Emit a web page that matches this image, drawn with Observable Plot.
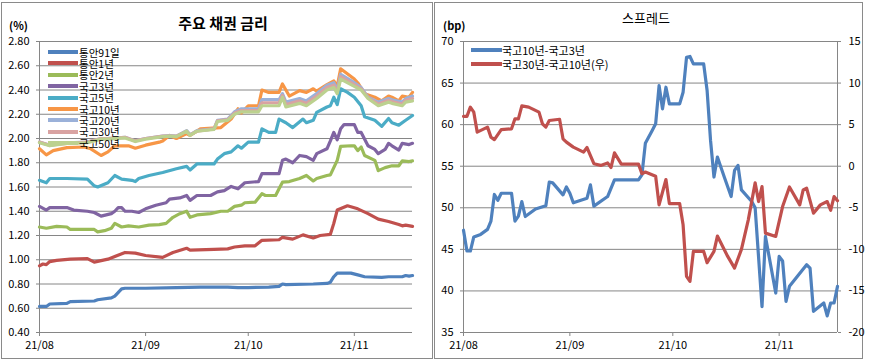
<!DOCTYPE html>
<html><head><meta charset="utf-8">
<script src="https://cdn.jsdelivr.net/npm/d3@7"></script>
<script src="https://cdn.jsdelivr.net/npm/@observablehq/plot@0.6"></script>
<style>
body{margin:0;width:869px;height:361px;background:#fff;position:relative;overflow:hidden;font-family:"Noto Sans CJK KR","Noto Sans",sans-serif;color:#000;}
.panel{position:absolute;border:1px solid #8a8a8a;box-sizing:border-box;}
.abs{position:absolute;white-space:nowrap;}
.chart{position:absolute;top:0;}
.lg{position:absolute;height:4px;}
.lt{position:absolute;font-size:11px;line-height:12px;white-space:nowrap;}
.lt1{position:absolute;font-size:10.5px;line-height:11px;white-space:nowrap;}
</style></head><body>
<div class="panel" style="left:1px;top:2px;width:432px;height:357px"></div>
<div class="panel" style="left:434px;top:2px;width:429px;height:357px"></div>
<div id="c1" class="chart" style="left:0px"></div>
<div id="c2" class="chart" style="left:434px"></div>
<div class="abs" style="left:123px;top:12px;width:200px;text-align:center;font-size:15px;font-weight:bold;line-height:22px">주요 채권 금리</div>
<div class="abs" style="left:546px;top:7px;width:200px;text-align:center;font-size:13px;line-height:22px">스프레드</div>
<div class="abs" style="left:9px;top:18px;font-size:11px;font-weight:bold;line-height:14px">(%)</div>
<div class="abs" style="left:443px;top:18px;font-size:11px;font-weight:bold;line-height:14px">(bp)</div>
<div id="leg1"></div>
<div id="leg2"></div>
<script>
// ---- Left chart: 주요 채권 금리 (%) ----
const leftNames = ["통안91일","통안1년","통안2년","국고3년","국고5년","국고10년","국고20년","국고30년","국고50년"];
const leftColors = ["#4F81BD","#C0504D","#9BBB59","#8064A2","#4BACC6","#F79646","#9BB1D9","#D9A3A2","#BCD18F"];
const yTicksLeft = [0.4,0.6,0.8,1.0,1.2,1.4,1.6,1.8,2.0,2.2,2.4,2.6,2.8];
const monthTicks = ["08-02","09-02","10-02","11-02"];
const xDomain = ["08-02","11-19"];

const s91 = [["08-02",0.615],["08-04",0.615],["08-05",0.635],["08-10",0.64],["08-11",0.655],["08-18",0.66],["08-19",0.67],["08-23",0.685],["08-24",0.70],["08-26",0.76],["08-27",0.765],["09-02",0.765],["09-11",0.77],["09-18",0.775],["09-26",0.775],["09-29",0.77],["10-02",0.77],["10-08",0.775],["10-11",0.78],["10-12",0.80],["10-13",0.795],["10-21",0.80],["10-25",0.805],["10-26",0.815],["10-27",0.86],["10-28",0.89],["11-01",0.89],["11-03",0.875],["11-05",0.86],["11-10",0.855],["11-12",0.86],["11-16",0.86],["11-17",0.87],["11-18",0.865],["11-19",0.87]];
const s1y = [["08-02",0.95],["08-03",0.965],["08-04",0.96],["08-05",0.985],["08-07",0.995],["08-11",1.005],["08-16",1.01],["08-18",0.98],["08-22",1.005],["08-27",1.06],["08-30",1.055],["09-02",1.035],["09-07",1.02],["09-10",1.06],["09-14",1.095],["09-15",1.08],["09-22",1.085],["09-26",1.09],["09-28",1.105],["10-01",1.115],["10-04",1.115],["10-06",1.16],["10-11",1.165],["10-12",1.185],["10-15",1.17],["10-18",1.205],["10-21",1.18],["10-23",1.20],["10-26",1.21],["10-27",1.30],["10-28",1.41],["10-31",1.445],["11-03",1.42],["11-06",1.38],["11-09",1.335],["11-12",1.315],["11-15",1.29],["11-16",1.28],["11-17",1.285],["11-19",1.275]];
const s2y = [["08-02",1.27],["08-04",1.26],["08-07",1.275],["08-10",1.27],["08-11",1.25],["08-18",1.25],["08-19",1.23],["08-21",1.24],["08-23",1.26],["08-24",1.30],["08-26",1.27],["08-28",1.28],["08-31",1.27],["09-03",1.285],["09-06",1.29],["09-08",1.30],["09-10",1.35],["09-12",1.38],["09-14",1.40],["09-15",1.35],["09-17",1.37],["09-21",1.38],["09-24",1.40],["09-26",1.40],["09-28",1.44],["09-30",1.45],["10-01",1.47],["10-04",1.475],["10-06",1.545],["10-07",1.53],["10-10",1.53],["10-11",1.585],["10-12",1.64],["10-14",1.645],["10-17",1.67],["10-19",1.695],["10-21",1.65],["10-22",1.67],["10-25",1.695],["10-26",1.70],["10-28",1.82],["10-29",1.935],["11-01",1.94],["11-02",1.94],["11-03",1.90],["11-04",1.93],["11-05",1.86],["11-08",1.82],["11-09",1.735],["11-11",1.76],["11-13",1.775],["11-15",1.775],["11-16",1.815],["11-18",1.81],["11-19",1.815]];
const k3y = [["08-02",1.44],["08-04",1.41],["08-05",1.43],["08-10",1.43],["08-12",1.41],["08-16",1.40],["08-18",1.39],["08-20",1.36],["08-23",1.38],["08-24",1.40],["08-25",1.43],["08-26",1.43],["08-27",1.40],["08-29",1.40],["08-31",1.39],["09-02",1.42],["09-05",1.45],["09-08",1.47],["09-09",1.50],["09-12",1.51],["09-14",1.53],["09-15",1.49],["09-17",1.53],["09-21",1.53],["09-23",1.56],["09-25",1.57],["09-27",1.605],["09-29",1.585],["10-01",1.635],["10-05",1.645],["10-06",1.71],["10-11",1.71],["10-12",1.82],["10-13",1.83],["10-15",1.80],["10-17",1.86],["10-19",1.85],["10-21",1.82],["10-22",1.875],["10-25",1.915],["10-26",1.98],["10-27",2.05],["10-28",1.99],["10-29",2.08],["10-30",2.115],["11-02",2.115],["11-03",2.05],["11-04",2.05],["11-06",1.94],["11-08",1.91],["11-09",1.875],["11-11",1.91],["11-12",1.96],["11-13",1.94],["11-15",1.905],["11-16",1.96],["11-18",1.95],["11-19",1.96]];
const k5y = [["08-02",1.655],["08-04",1.635],["08-05",1.67],["08-10",1.67],["08-16",1.665],["08-18",1.61],["08-19",1.60],["08-22",1.635],["08-24",1.695],["08-26",1.665],["08-29",1.655],["08-30",1.645],["08-31",1.67],["09-03",1.695],["09-07",1.72],["09-11",1.75],["09-14",1.77],["09-15",1.74],["09-17",1.79],["09-22",1.79],["09-23",1.83],["09-25",1.875],["09-27",1.89],["09-29",1.94],["09-30",1.92],["10-02",1.97],["10-05",1.97],["10-06",2.08],["10-08",2.05],["10-10",2.05],["10-11",2.16],["10-13",2.13],["10-15",2.09],["10-18",2.16],["10-19",2.13],["10-21",2.15],["10-22",2.215],["10-25",2.26],["10-26",2.27],["10-27",2.34],["10-28",2.28],["10-29",2.41],["10-31",2.38],["11-02",2.34],["11-04",2.27],["11-05",2.18],["11-08",2.15],["11-10",2.10],["11-12",2.165],["11-13",2.13],["11-15",2.11],["11-17",2.15],["11-19",2.19]];
const k10y = [["08-02",1.915],["08-04",1.865],["08-06",1.90],["08-10",1.925],["08-15",1.93],["08-17",1.915],["08-20",1.86],["08-22",1.89],["08-24",1.94],["08-28",1.94],["08-30",1.92],["09-02",1.945],["09-06",1.97],["09-07",1.98],["09-09",2.025],["09-11",2.00],["09-14",2.04],["09-15",2.025],["09-18",2.08],["09-24",2.09],["09-27",2.16],["09-29",2.245],["09-30",2.21],["10-01",2.24],["10-02",2.27],["10-05",2.27],["10-06",2.40],["10-08",2.38],["10-11",2.38],["10-12",2.45],["10-13",2.40],["10-14",2.35],["10-17",2.395],["10-19",2.38],["10-21",2.41],["10-22",2.39],["10-25",2.445],["10-27",2.475],["10-28",2.43],["10-29",2.575],["11-02",2.49],["11-03",2.46],["11-05",2.37],["11-08",2.34],["11-10",2.31],["11-12",2.35],["11-13",2.34],["11-15",2.31],["11-16",2.35],["11-18",2.34],["11-19",2.38]];
const k20y = [["08-02",1.97],["08-05",1.945],["08-10",1.965],["08-16",1.97],["08-20",2.00],["08-22",2.00],["08-27",2.01],["08-30",1.98],["09-02",2.00],["09-07",2.02],["09-09",2.025],["09-11",2.02],["09-14",2.065],["09-15",2.03],["09-17",2.065],["09-22",2.08],["09-23",2.15],["09-26",2.16],["09-28",2.22],["09-30",2.245],["10-05",2.245],["10-06",2.32],["10-11",2.32],["10-12",2.37],["10-13",2.30],["10-17",2.33],["10-19",2.31],["10-22",2.37],["10-25",2.44],["10-27",2.46],["10-28",2.40],["10-29",2.53],["11-02",2.46],["11-04",2.42],["11-06",2.34],["11-09",2.30],["11-12",2.33],["11-13",2.32],["11-16",2.30],["11-17",2.33],["11-19",2.35]];
const k30y = [["08-02",1.97],["08-05",1.945],["08-10",1.96],["08-16",1.97],["08-20",2.00],["08-22",2.00],["08-27",2.01],["08-30",1.98],["09-02",2.00],["09-07",2.02],["09-09",2.02],["09-11",2.02],["09-14",2.06],["09-15",2.03],["09-17",2.06],["09-22",2.08],["09-23",2.145],["09-26",2.155],["09-28",2.21],["09-30",2.23],["10-05",2.23],["10-06",2.295],["10-11",2.295],["10-12",2.355],["10-13",2.28],["10-17",2.31],["10-19",2.29],["10-22",2.35],["10-25",2.42],["10-27",2.44],["10-28",2.385],["10-29",2.51],["11-02",2.445],["11-04",2.41],["11-06",2.335],["11-09",2.285],["11-12",2.315],["11-13",2.305],["11-16",2.285],["11-17",2.315],["11-19",2.33]];
const k50y = [["08-02",1.965],["08-05",1.94],["08-10",1.96],["08-16",1.965],["08-20",1.995],["08-22",1.995],["08-27",2.005],["08-30",1.975],["09-02",1.995],["09-07",2.015],["09-09",2.02],["09-11",2.015],["09-14",2.06],["09-15",2.025],["09-17",2.06],["09-22",2.075],["09-23",2.14],["09-26",2.15],["09-28",2.20],["09-30",2.22],["10-05",2.22],["10-06",2.27],["10-11",2.27],["10-12",2.34],["10-13",2.26],["10-17",2.29],["10-19",2.27],["10-22",2.33],["10-25",2.40],["10-27",2.42],["10-28",2.37],["10-29",2.49],["11-02",2.43],["11-04",2.40],["11-06",2.33],["11-09",2.27],["11-12",2.30],["11-13",2.29],["11-16",2.27],["11-17",2.30],["11-19",2.31]];

// ---- Right chart: 스프레드 (bp) ----
const rightNames = ["국고10년-국고3년","국고30년-국고10년(우)"];
const rightColors = ["#4F81BD","#C0504D"];
const yTicksRight = [35,40,45,50,55,60,65,70];   // left axis (bp)
const rightAxisOffset = 55;                        // right axis = left axis - 55 (15 … -20)
const spread10_3 = [["08-02",47.3],["08-03",44.8],["08-04",44.8],["08-05",46.5],["08-07",46.8],["08-09",47.4],["08-10",48.4],["08-11",51.6],["08-12",50.9],["08-13",51.75],["08-16",51.75],["08-17",48.4],["08-18",49.0],["08-19",50.75],["08-20",48.95],["08-23",49.85],["08-26",50.25],["08-27",53.1],["08-28",53.0],["08-31",51.55],["09-01",52.5],["09-02",51.75],["09-03",50.6],["09-07",51.15],["09-08",52.75],["09-09",50.2],["09-13",51.35],["09-15",53.35],["09-22",53.35],["09-23",53.95],["09-24",57.75],["09-26",59.3],["09-27",60.1],["09-28",64.7],["09-29",61.9],["09-30",64.5],["10-01",62.5],["10-04",62.5],["10-05",63.9],["10-06",68.1],["10-07",68.2],["10-08",67.3],["10-11",67.3],["10-12",64.1],["10-13",58.1],["10-14",53.7],["10-15",56.1],["10-17",53.7],["10-19",51.35],["10-20",54.5],["10-21",55.1],["10-22",52.15],["10-25",50.75],["10-26",50.0],["10-28",38.1],["10-29",46.55],["11-01",39.75],["11-02",44.15],["11-03",43.6],["11-04",38.75],["11-05",40.55],["11-10",43.15],["11-11",42.75],["11-12",37.55],["11-15",38.55],["11-16",37.0],["11-17",38.55],["11-18",38.55],["11-19",40.55]];
const spread30_10 = [["08-02",6.0],["08-03",6.0],["08-04",7.1],["08-05",6.5],["08-06",4.1],["08-09",4.7],["08-10",3.5],["08-11",3.2],["08-13",4.4],["08-16",4.5],["08-17",5.7],["08-18",5.7],["08-19",7.25],["08-21",7.1],["08-24",6.5],["08-25",5.1],["08-26",4.7],["08-27",5.5],["08-30",5.65],["08-31",3.3],["09-01",2.9],["09-03",2.3],["09-06",1.7],["09-07",2.25],["09-09",0.3],["09-11",0.1],["09-13",0.4],["09-14",-0.15],["09-15",1.6],["09-17",0.25],["09-22",0.25],["09-23",-0.9],["09-24",-0.7],["09-27",-1.2],["09-28",-4.65],["09-30",-1.6],["10-01",-4.5],["10-04",-4.5],["10-05",-7.05],["10-06",-13.25],["10-07",-13.85],["10-08",-10.25],["10-11",-10.25],["10-12",-11.6],["10-14",-10.25],["10-15",-8.4],["10-18",-10.85],["10-20",-12.25],["10-22",-10.0],["10-24",-6.45],["10-26",-2.0],["10-27",-4.25],["10-28",-2.45],["10-29",-8.05],["11-01",-8.45],["11-03",-4.85],["11-05",-2.5],["11-08",-4.65],["11-09",-2.85],["11-10",-2.65],["11-12",-5.65],["11-14",-4.65],["11-16",-4.25],["11-17",-5.3],["11-18",-3.65],["11-19",-4.15]];

// ---- build ----
const parse = s => new Date(`2021-${s}T00:00:00Z`);
const fmt = d3.utcFormat("%y/%m");
const FONT = '"Noto Sans CJK KR","Noto Sans",sans-serif';
const GRID = "#868686";

const leftSeries = [s91,s1y,s2y,k3y,k5y,k10y,k20y,k30y,k50y];
const leftRows = leftSeries.flatMap((arr,i)=>arr.map(([d,v])=>({date:parse(d), value:v, name:leftNames[i]})));

const p1 = Plot.plot({
  width:432, height:358,
  marginLeft:39, marginRight:20, marginTop:41, marginBottom:26,
  style:{fontFamily:FONT, fontSize:"11px", color:"#000", background:"transparent", overflow:"visible"},
  x:{type:"utc", domain:xDomain.map(parse)},
  y:{domain:[0.4,2.8]},
  color:{domain:leftNames, range:leftColors},
  marks:[
    Plot.gridY(yTicksLeft, {stroke:GRID, strokeOpacity:1}),
    Plot.ruleX([parse(xDomain[0])], {stroke:GRID}),
    Plot.ruleY([0.4], {stroke:GRID}),
    Plot.axisY(yTicksLeft, {tickFormat:d=>d.toFixed(2), tickSize:3, tickPadding:7, stroke:GRID, fill:"#000", label:null}),
    Plot.axisX(monthTicks.map(parse), {tickFormat:fmt, tickSize:4, tickPadding:5, stroke:GRID, fill:"#000", label:null}),
    Plot.lineY(leftRows, {x:"date", y:"value", z:"name", stroke:"name", strokeWidth:3.2, strokeLinejoin:"round", strokeLinecap:"round"})
  ]
});
document.getElementById("c1").append(p1);

const rightRows = [
  ...spread10_3.map(([d,v])=>({date:parse(d), value:v, name:rightNames[0]})),
  ...spread30_10.map(([d,v])=>({date:parse(d), value:v + rightAxisOffset, name:rightNames[1]}))
];
const p2 = Plot.plot({
  width:430, height:358,
  marginLeft:29, marginRight:27, marginTop:41, marginBottom:26,
  style:{fontFamily:FONT, fontSize:"11px", color:"#000", background:"transparent", overflow:"visible"},
  x:{type:"utc", domain:xDomain.map(parse)},
  y:{domain:[35,70]},
  color:{domain:rightNames, range:rightColors},
  marks:[
    Plot.gridY(yTicksRight, {stroke:GRID, strokeOpacity:1}),
    Plot.ruleX([parse(xDomain[0]), parse(xDomain[1])], {stroke:GRID}),
    Plot.ruleY([35], {stroke:GRID}),
    Plot.axisY(yTicksRight, {anchor:"left", tickFormat:d=>String(d), tickSize:3, tickPadding:7, stroke:GRID, fill:"#000", label:null}),
    Plot.axisY(yTicksRight, {anchor:"right", tickFormat:d=>String(d-rightAxisOffset), tickSize:3, tickPadding:8, stroke:GRID, fill:"#000", label:null}),
    Plot.axisX(monthTicks.map(parse), {tickFormat:fmt, tickSize:4, tickPadding:5, stroke:GRID, fill:"#000", label:null}),
    Plot.lineY(rightRows, {x:"date", y:"value", z:"name", stroke:"name", strokeWidth:3.2, strokeLinejoin:"round", strokeLinecap:"round"})
  ]
});
document.getElementById("c2").append(p2);

// legends
const leg1 = document.getElementById("leg1");
leftNames.forEach((n,i)=>{
  const yc = 52 + i*11.4;
  leg1.insertAdjacentHTML("beforeend",
    `<div class="lg" style="left:48px;top:${yc-2}px;width:30px;background:${leftColors[i]}"></div>`+
    `<div class="lt1" style="left:79px;top:${yc-5.5}px">${n}</div>`);
});
const leg2 = document.getElementById("leg2");
rightNames.forEach((n,i)=>{
  const yc = 50 + i*14;
  leg2.insertAdjacentHTML("beforeend",
    `<div class="lg" style="left:471px;top:${yc-2}px;width:31px;background:${rightColors[i]}"></div>`+
    `<div class="lt" style="left:502px;top:${yc-6}px">${n}</div>`);
});
</script>
</body></html>
